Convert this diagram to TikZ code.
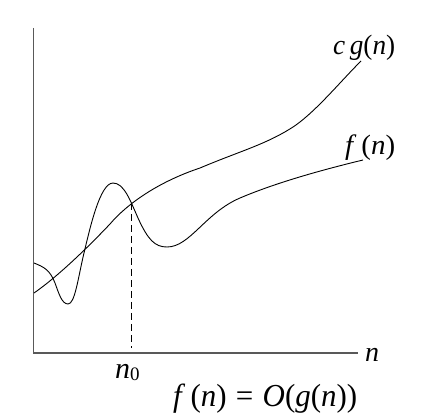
\documentclass[tikz,border=0pt]{standalone}
\usepackage{fontspec}
\usepackage{graphicx}
\setmainfont{Liberation Serif}
\newcommand{\vi}[1]{\textit{#1}}
\begin{document}
\begin{tikzpicture}[x=1pt,y=-1pt,
  axisline/.style={line width=1.3pt,draw=black!65},
  curve/.style={line width=0.9pt,draw=black},
  lbl/.style={inner sep=0pt,anchor=base west,font=\fontsize{28}{32}\selectfont},
  biglbl/.style={inner sep=0pt,anchor=base west,font=\fontsize{32}{36}\selectfont}]
\useasboundingbox (0,0) rectangle (421,417);
\coordinate (top) at (33.5,28);
\coordinate (O) at (33.5,353);
\coordinate (xend) at (358,353);
\draw[axisline] (top) -- (O) -- (xend);
% c g(n)
\draw[curve] (34,293) .. controls (60,275) and (92,243) .. (110,224)
  .. controls (127,204) and (158,182) .. (200,168)
  .. controls (240,151) and (268,144) .. (296,125)
  .. controls (318,109) and (340,82) .. (361,61);
% f(n)
\draw[curve] (34,263) .. controls (44,267) and (50,270) .. (55,283)
  .. controls (59,294) and (62,304) .. (68,304)
  .. controls (75,304) and (78,278) .. (84,253)
  .. controls (90,228) and (100,183) .. (113,183)
  .. controls (124,183) and (130,200) .. (138,218)
  .. controls (148,240) and (155,247) .. (167,247)
  .. controls (190,247) and (205,213) .. (240,198)
  .. controls (280,181) and (330,168) .. (363,160);
\coordinate (n0top) at (131,203);
\coordinate (n0bot) at (131,348);
\draw[line width=0.9pt,dash pattern=on 7pt off 4pt] (n0top) -- (n0bot);
\node[lbl] (cg) at (333,55) {\resizebox{62pt}{\height}{\vi{c}\,\vi{g}(\vi{n})}};
\node[lbl] (fn) at (345,155) {\resizebox{50pt}{\height}{\vi{f}\,(\vi{n})}};
\node[lbl] (nax) at (365,361) {\vi{n}};
\node[lbl,font=\fontsize{30}{34}\selectfont] (n0) at (115,378) {\vi{n}\raisebox{-2pt}{\fontsize{19}{22}\selectfont 0}};
\node[biglbl] (eq) at (173,406) {\resizebox{184pt}{\height}{\vi{f}\,(\vi{n})\hspace{0.3em}=\hspace{0.3em}\vi{O}(\vi{g}(\vi{n}))}};
\end{tikzpicture}
\end{document}
